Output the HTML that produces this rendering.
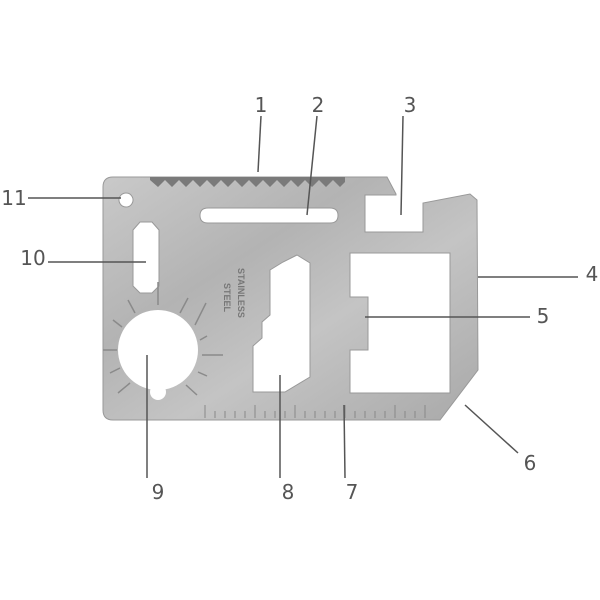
<!DOCTYPE html>
<html><head><style>html,body{margin:0;padding:0;background:#fff;}svg{display:block}</style></head>
<body>
<svg width="600" height="600" viewBox="0 0 600 600" xmlns="http://www.w3.org/2000/svg">
<defs>
<linearGradient id="m" x1="0" y1="0" x2="1" y2="1">
<stop offset="0" stop-color="#c9c9c9"/><stop offset="0.35" stop-color="#b3b3b3"/>
<stop offset="0.6" stop-color="#c4c4c4"/><stop offset="1" stop-color="#a9a9a9"/>
</linearGradient>
</defs>
<path fill="url(#m)" stroke="#999" stroke-width="1" fill-rule="evenodd" d="
M113,177 L387,177 L396,194 L396,195 L365,195 L365,232 L423,232 L423,203 L470,194 L477,200 L478,370 L440,420 L113,420 Q103,420 103,410 L103,187 Q103,177 113,177 Z
M208,208 L330,208 Q338,208 338,215.5 Q338,223 330,223 L208,223 Q200,223 200,215.5 Q200,208 208,208 Z
M350,253 L450,253 L450,393 L350,393 L350,350 L368,350 L368,297 L350,297 Z
M297,255 L310,263 L310,377 L285,392 L253,392 L253,346 L262,338 L262,322 L270,315 L270,270 L283,262 Z
M126,193 a7,7 0 1,0 0.01,0 Z
M140,222 L152,222 L159,230 L159,286 L152,293 L140,293 L133,286 L133,230 Z
"/>
<circle cx="158" cy="350" r="40" fill="#fff"/>
<circle cx="158" cy="392" r="8" fill="#fff"/>
<!-- saw teeth -->
<g fill="#555">
<path d="M150,177 L345,177 L345,182 L340,187 L333,180 L326,187 L319,180 L312,187 L305,180 L298,187 L291,180 L284,187 L277,180 L270,187 L263,180 L256,187 L249,180 L242,187 L235,180 L228,187 L221,180 L214,187 L207,180 L200,187 L193,180 L186,187 L179,180 L172,187 L165,180 L158,187 L150,180 Z" fill="#7a7a7a"/>
</g>
<!-- rays around circle -->
<g stroke="#8a8a8a" stroke-width="1.5">
<line x1="158" y1="305" x2="158" y2="282"/><line x1="180" y1="313" x2="188" y2="298"/>
<line x1="195" y1="325" x2="206" y2="303"/><line x1="200" y1="340" x2="207" y2="336"/>
<line x1="202" y1="355" x2="223" y2="355"/><line x1="198" y1="372" x2="207" y2="376"/>
<line x1="186" y1="385" x2="197" y2="395"/><line x1="135" y1="313" x2="128" y2="300"/>
<line x1="122" y1="327" x2="113" y2="320"/><line x1="117" y1="350" x2="103" y2="350"/>
<line x1="120" y1="368" x2="110" y2="373"/><line x1="130" y1="383" x2="118" y2="393"/>
</g>
<!-- ruler -->
<g stroke="#888" stroke-width="1">
<path d="M205,418 V405 M215,418 V411 M225,418 V411 M235,418 V411 M245,418 V411 M255,418 V405 M265,418 V411 M275,418 V411 M285,418 V411 M295,418 V405 M305,418 V411 M315,418 V411 M325,418 V411 M335,418 V411 M345,418 V405 M355,418 V411 M365,418 V411 M375,418 V411 M385,418 V411 M395,418 V405 M405,418 V411 M415,418 V411 M425,418 V405"/>
</g>
<text x="238" y="268" font-family="Liberation Sans, sans-serif" font-size="9" font-weight="bold" fill="#777" transform="rotate(90 238 268)">STAINLESS</text>
<text x="224" y="283" font-family="Liberation Sans, sans-serif" font-size="9" font-weight="bold" fill="#777" transform="rotate(90 224 283)">STEEL</text>
<!-- leaders -->
<g stroke="#555" stroke-width="1.5">
<line x1="261" y1="116" x2="258" y2="172"/>
<line x1="317" y1="116" x2="307" y2="215"/>
<line x1="403" y1="116" x2="401" y2="215"/>
<line x1="478" y1="277" x2="578" y2="277"/>
<line x1="365" y1="317" x2="530" y2="317"/>
<line x1="465" y1="405" x2="518" y2="453"/>
<line x1="344" y1="405" x2="345" y2="478"/>
<line x1="280" y1="375" x2="280" y2="478"/>
<line x1="147" y1="355" x2="147" y2="478"/>
<line x1="48" y1="262" x2="146" y2="262"/>
<line x1="28" y1="198" x2="121" y2="198"/>
</g>
<g font-family="DejaVu Sans, sans-serif" font-size="20" fill="#555" text-anchor="middle">
<text x="261" y="112">1</text><text x="318" y="112">2</text><text x="410" y="112">3</text>
<text x="592" y="281">4</text><text x="543" y="323">5</text><text x="530" y="470">6</text>
<text x="352" y="499">7</text><text x="288" y="499">8</text><text x="158" y="499">9</text>
<text x="33" y="265">10</text><text x="14" y="205">11</text>
</g>
</svg>
</body></html>
